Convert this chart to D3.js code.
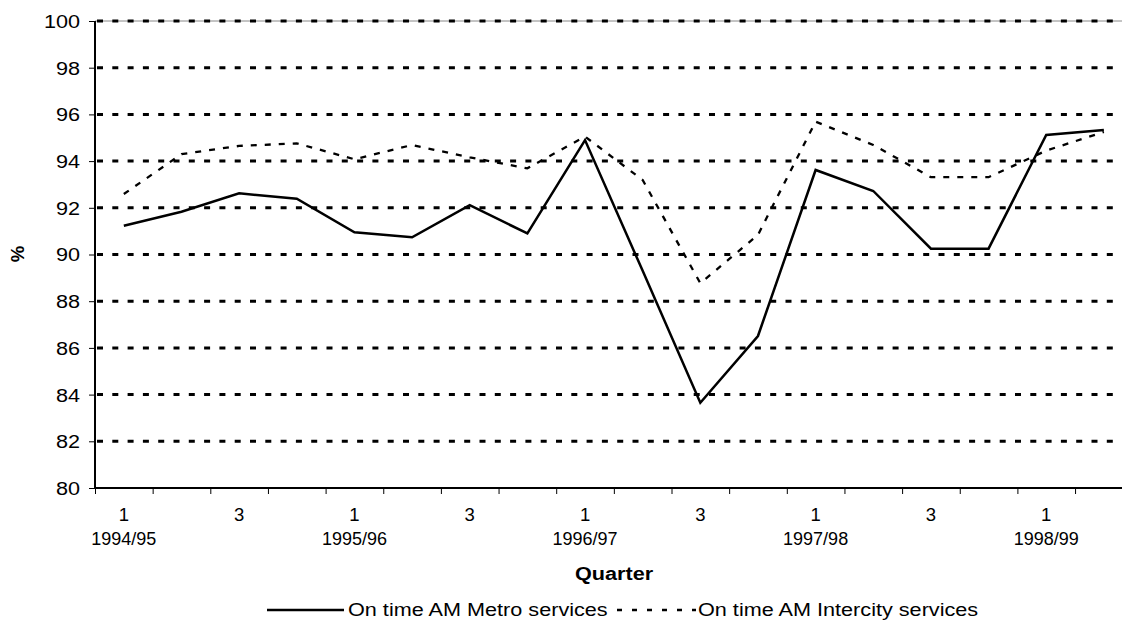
<!doctype html>
<html lang="en">
<head>
  <meta charset="utf-8">
  <title>On time AM services</title>
  <script src="https://d3js.org/d3.v7.min.js"></script>
  <style>
    body { margin: 0; background: #fff; }
    svg { display: block; font-family: Arial, "Liberation Sans", sans-serif; }
  </style>
</head>
<body>
<div id="my_dataviz"></div>
<script>
  // quarter number and financial year for each point
  var quarters = ["1", "2", "3", "4", "1", "2", "3", "4", "1", "2", "3", "4", "1", "2", "3", "4", "1", "2"];
  var years = ["1994/95", "", "", "", "1995/96", "", "", "", "1996/97", "", "", "", "1997/98", "", "", "", "1998/99", ""];
  var metro = [91.23, 91.83, 92.62, 92.39, 90.95, 90.74, 92.11, 90.9, 94.9, 89.3, 83.65, 86.51, 93.62, 92.72, 90.25, 90.25, 95.12, 95.33];
  var intercity = [92.59, 94.3, 94.65, 94.76, 94.08, 94.69, 94.16, 93.69, 95.05, 93.19, 88.77, 90.84, 95.69, 94.69, 93.31, 93.31, 94.45, 95.25];
  var yTicks = [80, 82, 84, 86, 88, 90, 92, 94, 96, 98, 100];

  var W = 1122, H = 621;
  var margin = {top: 21, left: 95},
      width = 18 * 57.65,
      height = 467;
  var stretch = 1.17; // the original text is a little wider than Arial

  var svg = d3.select("#my_dataviz")
      .append("svg")
      .attr("width", W)
      .attr("height", H);

  var g = svg.append("g")
      .attr("transform", "translate(" + margin.left + "," + margin.top + ")");

  var idx = d3.range(quarters.length);
  var x = d3.scaleBand().domain(idx).range([0, width]).padding(0);
  var xEdge = d3.scaleLinear().domain([0, quarters.length]).range([0, width]);
  var y = d3.scaleLinear().domain([80, 100]).range([height, 0]);
  var cx = function (i) { return x(i) + x.bandwidth() / 2; };

  // stretched text helper
  function wideText(sel, tx, ty, str, size, anchor, bold) {
    return sel.append("text")
        .attr("transform", "translate(" + tx + "," + ty + ") scale(" + stretch + ",1)")
        .attr("text-anchor", anchor)
        .attr("font-size", size)
        .attr("font-weight", bold ? "bold" : null)
        .text(str);
  }

  // top border of the plot area
  g.append("line")
      .attr("x1", 0).attr("x2", width)
      .attr("y1", 0).attr("y2", 0)
      .attr("stroke", "#888").attr("stroke-width", 1);

  // dotted gridlines
  g.append("g")
      .selectAll("line")
      .data(yTicks.filter(function (d) { return d > 80; }))
      .enter().append("line")
      .attr("x1", 2).attr("x2", width)
      .attr("y1", function (d) { return y(d); })
      .attr("y2", function (d) { return y(d); })
      .attr("stroke", "#000")
      .attr("stroke-width", 3)
      .attr("stroke-dasharray", "6,9.3");

  // Y axis
  var yAxis = g.append("g")
      .call(d3.axisLeft(y).tickValues(yTicks).tickSize(6).tickPadding(8));
  yAxis.select(".domain").remove();
  yAxis.selectAll(".tick line").attr("stroke", "#000").attr("stroke-width", 1);
  yAxis.selectAll(".tick text")
      .attr("x", 0)
      .attr("dy", "0.35em")
      .attr("transform", "translate(-15,0) scale(" + stretch + ",1)")
      .attr("font-size", 18.5)
      .attr("font-family", "Arial, 'Liberation Sans', sans-serif")
      .attr("fill", "#000");
  g.append("line")
      .attr("x1", 0).attr("x2", 0)
      .attr("y1", 0).attr("y2", height)
      .attr("stroke", "#000").attr("stroke-width", 2);

  // X axis: ticks at the band edges
  var xAxis = g.append("g")
      .attr("transform", "translate(0," + height + ")")
      .call(d3.axisBottom(xEdge).tickValues(d3.range(quarters.length + 1)).tickSize(6).tickFormat(""));
  xAxis.select(".domain").remove();
  xAxis.selectAll(".tick line").attr("stroke", "#000").attr("stroke-width", 1);
  g.append("line")
      .attr("x1", 0).attr("x2", width)
      .attr("y1", height).attr("y2", height)
      .attr("stroke", "#000").attr("stroke-width", 2);

  // every other quarter label, year under Q1
  g.append("g")
      .selectAll("text")
      .data(idx.filter(function (i) { return i % 2 === 0; }))
      .enter().append("text")
      .attr("x", cx)
      .attr("y", height + 33)
      .attr("text-anchor", "middle")
      .attr("font-size", 18.5)
      .text(function (i) { return quarters[i]; });
  g.append("g")
      .selectAll("text")
      .data(idx.filter(function (i) { return years[i] !== ""; }))
      .enter().append("text")
      .attr("x", cx)
      .attr("y", height + 57)
      .attr("text-anchor", "middle")
      .attr("font-size", 18)
      .text(function (i) { return years[i]; });

  // axis titles
  wideText(svg, 614, 580, "Quarter", 18.5, "middle", true);
  svg.append("text")
      .attr("transform", "translate(24,254) rotate(-90)")
      .attr("text-anchor", "middle")
      .attr("font-size", 18.5).attr("font-weight", "bold")
      .text("%");

  // series lines
  var line = function (vals) {
    return d3.line()
        .x(function (d, i) { return cx(i); })
        .y(function (d) { return y(d); })(vals);
  };
  g.append("path")
      .attr("d", line(intercity))
      .attr("fill", "none")
      .attr("stroke", "#000")
      .attr("stroke-width", 2.3)
      .attr("stroke-dasharray", "6,8");
  g.append("path")
      .attr("d", line(metro))
      .attr("fill", "none")
      .attr("stroke", "#000")
      .attr("stroke-width", 2.5)
      .attr("stroke-linejoin", "miter");

  // legend
  var legend = svg.append("g");
  legend.append("line")
      .attr("x1", 267).attr("x2", 344).attr("y1", 610).attr("y2", 610)
      .attr("stroke", "#000").attr("stroke-width", 2.5);
  wideText(legend, 348, 616, "On time AM Metro services", 18.5, "start", false);
  legend.append("line")
      .attr("x1", 617).attr("x2", 696).attr("y1", 610).attr("y2", 610)
      .attr("stroke", "#000").attr("stroke-width", 2.5)
      .attr("stroke-dasharray", "5,10");
  wideText(legend, 698, 616, "On time AM Intercity services", 18.5, "start", false);
</script>
</body>
</html>
